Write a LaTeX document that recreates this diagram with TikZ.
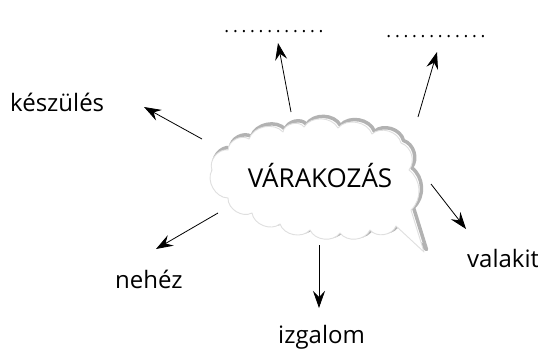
\documentclass[tikz,border=0pt]{standalone}
\usepackage{fontspec}
\setmainfont{Open Sans}
\usetikzlibrary{arrows.meta}

% the outline of the speech cloud
\newcommand{\cloudline}{(212,170) to[bend left=60] (228,150) to[bend left=60] (249,139)
  to[bend left=60] (283,132) to[bend left=70] (304,127) to[bend left=60] (338,128)
  to[bend left=60] (372,134) to[bend left=60] (401,143) to[bend left=55] (409,170)
  to[bend left=50] (411,210) -- (424,252) -- (396,226) to[bend left=60] (370,230)
  to[bend left=60] (340,233) to[bend left=60] (310,230) to[bend left=60] (280,224)
  to[bend left=60] (252,213) to[bend left=60] (228,198) to[bend left=60] (212,170) -- cycle}

\begin{document}
\begin{tikzpicture}[x=1pt,y=-1pt,
  word/.style={inner sep=0pt,anchor=base west,font=\fontsize{24}{28}\selectfont},
  blank/.style={inner sep=0pt,font=\fontsize{18}{21}\selectfont\addfontfeature{LetterSpace=21}},
  arr/.style={line width=.8pt,-{Stealth[length=17pt,width=12pt,inset=6pt]}}]
\useasboundingbox (0,0) rectangle (538,351);
% cloud: dark rim, then white body with a pale edge
\draw[gray!60,line width=3.5pt,line join=round,shift={(2.5pt,2.5pt)}] \cloudline;
\draw[gray!25,fill=white,line width=.9pt,line join=round] \cloudline;
\node[word,anchor=base,font=\fontsize{26}{30}\selectfont] (wait) at (320,187){VÁRAKOZÁS};
% the words round it
\node[word] (prep) at (10,111){készülés};
\node[blank] (gapa) at (274,32){............};
\node[blank] (gapb) at (436,37){............};
\node[word] (hard) at (115,288){nehéz};
\node[word] (thrill) at (278,343){izgalom};
\node[word] (someone) at (467,267){valakit};
% ends of the arrows
\coordinate (t1) at (202,139); \coordinate (h1) at (144,107);
\coordinate (t2) at (291,112); \coordinate (h2) at (278,43);
\coordinate (t3) at (418,117); \coordinate (h3) at (437,52);
\coordinate (t4) at (431,184); \coordinate (h4) at (466,229);
\coordinate (t5) at (319,245); \coordinate (h5) at (319,308);
\coordinate (t6) at (218,213); \coordinate (h6) at (156,249);
\foreach \i in {1,2,3,4,5,6}{
	\draw[arr] (t\i) -- (h\i);
	}
\end{tikzpicture}
\end{document}
